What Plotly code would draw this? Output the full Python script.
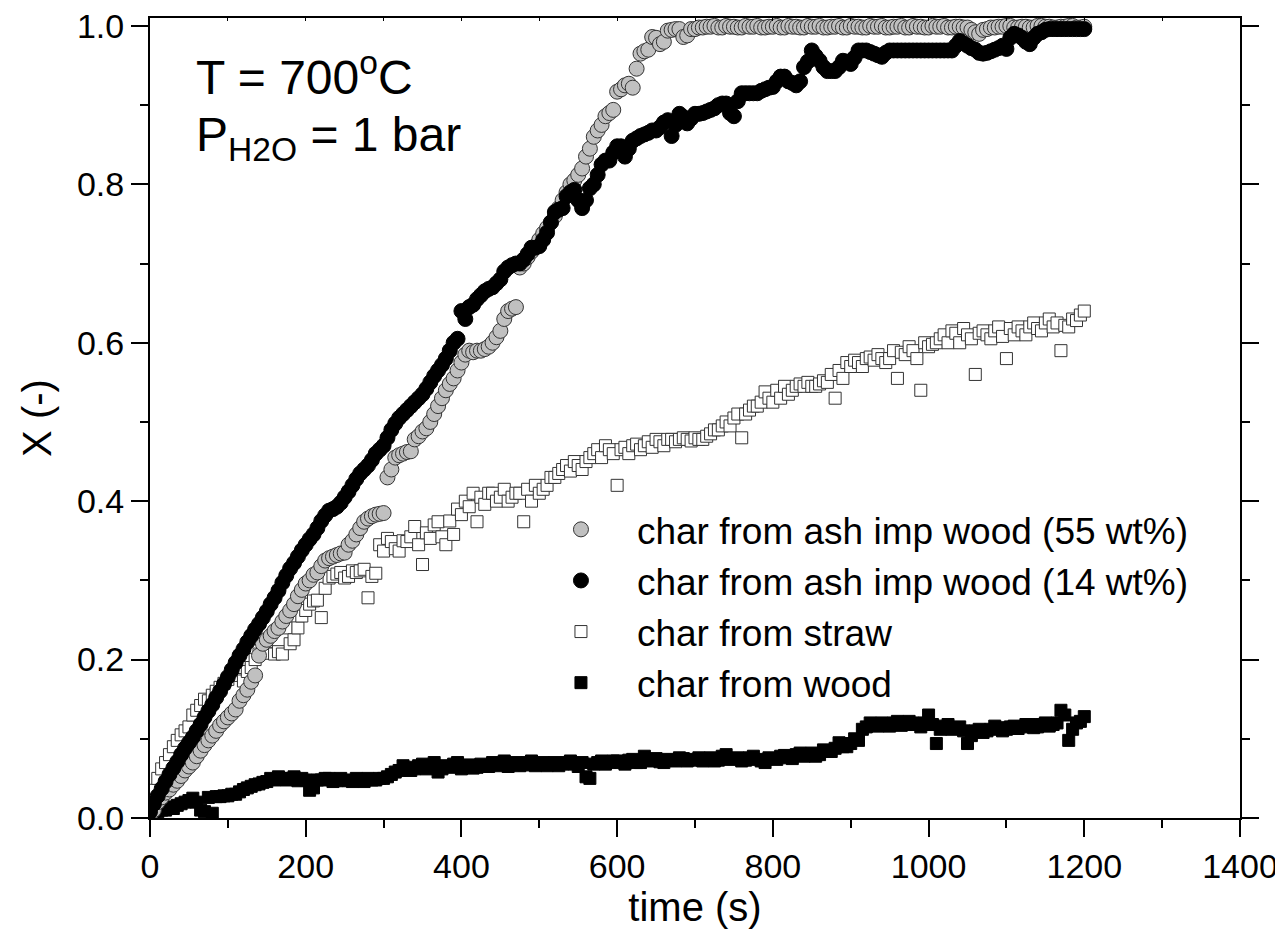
import plotly.graph_objects as go

# sampling times (s): main samples and the in-between samples
time_s = list(range(0, 1201, 10))
time_s_mid = list(range(5, 1200, 10))

# char from ash imp wood (55 wt%)
x_ash55 = [
    0.0, 0.02, 0.032, 0.042, 0.053, 0.065, 0.078, 0.092, 0.104, 0.117,      # 0-90
    0.127, 0.137, 0.155, 0.172, 0.205, 0.225, 0.236, 0.248, 0.262, 0.28,    # 100-190
    0.296, 0.307, 0.318, 0.328, 0.332, 0.335, 0.35, 0.366, 0.378, 0.383,    # 200-290
    0.385, 0.44, 0.458, 0.462, 0.478, 0.488, 0.50, 0.52, 0.54, 0.555,       # 300-390
    0.575, 0.59, 0.59, 0.592, 0.60, 0.615, 0.64, 0.645, 0.70, 0.715,        # 400-490
    0.73, 0.745, 0.76, 0.78, 0.80, 0.812, 0.835, 0.86, 0.875, 0.89,         # 500-590
    0.917, 0.925, 0.922, 0.965, 0.97, 0.985, 0.98, 0.995, 0.996, 0.988,     # 600-690
    0.996, 0.998, 0.999, 0.998, 1.0, 0.999, 0.998, 0.999, 1.0, 0.998,       # 700-790
    0.999, 0.998, 1.0, 0.999, 0.998, 0.999, 1.0, 0.998, 0.999, 0.998,       # 800-890
    1.0, 0.999, 0.998, 0.999, 1.0, 0.998, 0.999, 0.998, 1.0, 0.999,         # 900-990
    0.998, 0.999, 1.0, 0.998, 0.999, 0.998, 0.992, 0.995, 0.998, 0.999,     # 1000-1090
    1.0, 0.998, 0.999, 0.998, 1.0, 0.999, 0.998, 0.999, 1.0, 0.998,         # 1100-1190
    0.999,                                                                  # 1200
]
x_ash55_mid = [
    0.01, 0.026, 0.036, 0.047, 0.06, 0.07, 0.085, 0.098, 0.11, 0.122,       # 5-95
    0.132, 0.148, 0.162, 0.18, 0.22, 0.23, 0.24, 0.255, 0.27, 0.288,        # 105-195
    0.30, 0.31, 0.325, 0.33, 0.334, 0.345, 0.358, 0.374, 0.381, 0.384,      # 205-295
    0.43, 0.455, 0.46, 0.463, 0.482, 0.492, 0.51, 0.53, 0.548, 0.565,       # 305-395
    0.585, 0.588, 0.59, 0.595, 0.607, 0.63, 0.643, 0.695, 0.708, 0.722,     # 405-495
    0.738, 0.752, 0.77, 0.79, 0.805, 0.82, 0.845, 0.868, 0.886, 0.894,      # 505-595
    0.92, 0.927, 0.946, 0.968, 0.986, 0.977, 0.994, 0.996, 0.986, 0.996,    # 605-695
    0.998, 0.999, 1.0, 0.998, 0.999, 0.998, 1.0, 0.999, 0.998, 0.999,       # 705-795
    1.0, 0.998, 0.999, 0.998, 1.0, 0.999, 0.998, 0.999, 1.0, 0.998,         # 805-895
    0.999, 0.998, 1.0, 0.999, 0.998, 0.999, 1.0, 0.998, 0.999, 0.998,       # 905-995
    1.0, 0.999, 0.998, 0.999, 0.998, 0.995, 0.99, 0.996, 0.998, 0.999,      # 1005-1095
    1.0, 0.998, 0.999, 0.998, 1.0, 0.999, 0.998, 0.999, 1.0, 0.998,         # 1105-1195
]

# char from ash imp wood (14 wt%)
x_ash14 = [
    0.008, 0.028, 0.046, 0.063, 0.08, 0.095, 0.11, 0.127, 0.143, 0.16,      # 0-90
    0.178, 0.196, 0.213, 0.23, 0.245, 0.261, 0.278, 0.297, 0.315, 0.33,     # 100-190
    0.345, 0.358, 0.375, 0.388, 0.393, 0.405, 0.42, 0.435, 0.445, 0.46,     # 200-290
    0.47, 0.49, 0.505, 0.515, 0.525, 0.535, 0.55, 0.565, 0.58, 0.60,        # 300-390
    0.64, 0.645, 0.655, 0.665, 0.67, 0.68, 0.695, 0.70, 0.705, 0.72,        # 400-490
    0.722, 0.739, 0.765, 0.77, 0.79, 0.78, 0.78, 0.80, 0.825, 0.83,         # 500-590
    0.848, 0.835, 0.855, 0.861, 0.865, 0.868, 0.878, 0.861, 0.889, 0.877,   # 600-690
    0.889, 0.89, 0.894, 0.90, 0.902, 0.886, 0.915, 0.915, 0.915, 0.92,      # 700-790
    0.923, 0.936, 0.93, 0.925, 0.948, 0.969, 0.956, 0.943, 0.943, 0.956,    # 800-890
    0.952, 0.969, 0.969, 0.965, 0.961, 0.969, 0.969, 0.969, 0.969, 0.969,   # 900-990
    0.969, 0.969, 0.969, 0.969, 0.981, 0.975, 0.97, 0.965, 0.968, 0.972,    # 1000-1090
    0.971, 0.99, 0.985, 0.977, 0.99, 0.995, 0.996, 0.996, 0.996, 0.996,     # 1100-1190
    0.996,                                                                  # 1200
]
x_ash14_mid = [
    0.018, 0.037, 0.055, 0.071, 0.088, 0.102, 0.118, 0.135, 0.152, 0.169,   # 5-95
    0.187, 0.205, 0.222, 0.238, 0.253, 0.27, 0.287, 0.306, 0.322, 0.338,    # 105-195
    0.352, 0.366, 0.382, 0.39, 0.398, 0.412, 0.428, 0.44, 0.452, 0.465,     # 205-295
    0.48, 0.498, 0.51, 0.52, 0.53, 0.542, 0.558, 0.572, 0.59, 0.605,        # 305-395
    0.63, 0.648, 0.66, 0.668, 0.675, 0.69, 0.698, 0.70, 0.712, 0.72,        # 405-495
    0.73, 0.752, 0.768, 0.785, 0.793, 0.77, 0.795, 0.812, 0.83, 0.84,       # 505-595
    0.848, 0.845, 0.858, 0.863, 0.868, 0.872, 0.881, 0.875, 0.885, 0.883,   # 605-695
    0.889, 0.892, 0.896, 0.902, 0.89, 0.905, 0.915, 0.915, 0.918, 0.922,    # 705-795
    0.93, 0.936, 0.928, 0.93, 0.955, 0.962, 0.948, 0.943, 0.948, 0.955,     # 805-895
    0.96, 0.969, 0.967, 0.963, 0.966, 0.969, 0.969, 0.969, 0.969, 0.969,    # 905-995
    0.969, 0.969, 0.969, 0.975, 0.978, 0.972, 0.966, 0.966, 0.97, 0.975,    # 1005-1095
    0.985, 0.988, 0.98, 0.985, 0.992, 0.996, 0.996, 0.996, 0.996, 0.996,    # 1105-1195
]

# char from straw
x_straw = [
    0.02, 0.05, 0.07, 0.09, 0.105, 0.115, 0.136, 0.15, 0.155, 0.165,        # 0-90
    0.175, 0.186, 0.173, 0.19, 0.207, 0.211, 0.207, 0.207, 0.22, 0.24,      # 100-190
    0.262, 0.274, 0.253, 0.303, 0.308, 0.303, 0.312, 0.312, 0.278, 0.309,   # 200-290
    0.337, 0.349, 0.337, 0.349, 0.368, 0.32, 0.353, 0.374, 0.345, 0.358,    # 300-390
    0.383, 0.393, 0.374, 0.396, 0.41, 0.405, 0.40, 0.41, 0.374, 0.40,       # 400-490
    0.41, 0.42, 0.43, 0.44, 0.438, 0.445, 0.45, 0.46, 0.455, 0.465,         # 500-590
    0.42, 0.468, 0.47, 0.465, 0.475, 0.478, 0.47, 0.478, 0.478, 0.478,      # 600-690
    0.48, 0.478, 0.485, 0.49, 0.50, 0.505, 0.48, 0.515, 0.52, 0.538,        # 700-790
    0.525, 0.53, 0.535, 0.545, 0.545, 0.545, 0.548, 0.55, 0.53, 0.555,      # 800-890
    0.57, 0.575, 0.58, 0.578, 0.58, 0.58, 0.555, 0.585, 0.59, 0.54,         # 900-990
    0.595, 0.60, 0.61, 0.615, 0.60, 0.61, 0.56, 0.615, 0.605, 0.62,         # 1000-1090
    0.58, 0.61, 0.615, 0.62, 0.618, 0.625, 0.62, 0.59, 0.62, 0.628,         # 1100-1190
    0.64,                                                                   # 1200
]
x_straw_mid = [
    0.035, 0.062, 0.08, 0.098, 0.11, 0.13, 0.142, 0.148, 0.16, 0.17,        # 5-95
    0.18, 0.19, 0.185, 0.20, 0.21, 0.208, 0.21, 0.24, 0.225, 0.255,         # 105-195
    0.27, 0.275, 0.29, 0.305, 0.31, 0.305, 0.31, 0.314, 0.305, 0.345,       # 205-295
    0.353, 0.34, 0.35, 0.355, 0.345, 0.36, 0.37, 0.355, 0.375, 0.39,        # 305-395
    0.40, 0.41, 0.405, 0.41, 0.40, 0.415, 0.405, 0.41, 0.415, 0.42,         # 405-495
    0.415, 0.43, 0.435, 0.445, 0.45, 0.44, 0.455, 0.465, 0.47, 0.46,        # 505-595
    0.465, 0.46, 0.472, 0.47, 0.468, 0.475, 0.478, 0.475, 0.48, 0.476,      # 605-695
    0.478, 0.482, 0.49, 0.495, 0.495, 0.51, 0.51, 0.52, 0.525, 0.53,        # 705-795
    0.54, 0.545, 0.54, 0.548, 0.55, 0.545, 0.552, 0.56, 0.565, 0.575,       # 805-895
    0.578, 0.57, 0.582, 0.585, 0.575, 0.59, 0.588, 0.595, 0.58, 0.60,       # 905-995
    0.598, 0.605, 0.60, 0.612, 0.618, 0.605, 0.612, 0.61, 0.615, 0.608,     # 1005-1095
    0.618, 0.62, 0.61, 0.625, 0.615, 0.63, 0.625, 0.622, 0.63, 0.635,       # 1105-1195
]

# char from wood
x_wood = [
    0.005, 0.008, 0.01, 0.012, 0.018, 0.022, 0.02, 0.008, 0.006, 0.027,     # 0-90
    0.028, 0.03, 0.036, 0.04, 0.043, 0.046, 0.048, 0.05, 0.05, 0.047,       # 100-190
    0.048, 0.038, 0.048, 0.05, 0.047, 0.048, 0.046, 0.048, 0.05, 0.048,     # 200-290
    0.05, 0.055, 0.06, 0.064, 0.062, 0.068, 0.065, 0.058, 0.066, 0.068,     # 300-390
    0.062, 0.067, 0.064, 0.066, 0.07, 0.068, 0.065, 0.07, 0.067, 0.072,     # 400-490
    0.068, 0.066, 0.07, 0.068, 0.072, 0.065, 0.052, 0.068, 0.072, 0.07,     # 500-590
    0.072, 0.068, 0.074, 0.07, 0.072, 0.075, 0.07, 0.073, 0.076, 0.072,     # 600-690
    0.074, 0.072, 0.076, 0.073, 0.08, 0.075, 0.072, 0.076, 0.074, 0.07,     # 700-790
    0.075, 0.078, 0.076, 0.08, 0.078, 0.082, 0.08, 0.084, 0.088, 0.09,      # 800-890
    0.094, 0.098, 0.115, 0.118, 0.12, 0.116, 0.122, 0.118, 0.12, 0.115,     # 900-990
    0.13, 0.094, 0.116, 0.112, 0.115, 0.094, 0.11, 0.108, 0.112, 0.114,     # 1000-1090
    0.112, 0.116, 0.115, 0.118, 0.115, 0.12, 0.118, 0.136, 0.098, 0.12,     # 1100-1190
    0.128,                                                                  # 1200
]
x_wood_mid = [
    0.004, 0.01, 0.014, 0.016, 0.02, 0.025, 0.01, 0.026, 0.027, 0.028,      # 5-95
    0.03, 0.033, 0.038, 0.042, 0.045, 0.05, 0.052, 0.048, 0.052, 0.05,      # 105-195
    0.035, 0.048, 0.05, 0.046, 0.05, 0.047, 0.05, 0.046, 0.048, 0.05,       # 205-295
    0.052, 0.058, 0.066, 0.06, 0.066, 0.062, 0.07, 0.062, 0.064, 0.07,      # 305-395
    0.066, 0.063, 0.068, 0.065, 0.066, 0.072, 0.068, 0.066, 0.07, 0.066,    # 405-495
    0.07, 0.068, 0.066, 0.07, 0.068, 0.07, 0.05, 0.07, 0.068, 0.072,        # 505-595
    0.07, 0.073, 0.07, 0.078, 0.073, 0.071, 0.074, 0.072, 0.075, 0.073,     # 605-695
    0.076, 0.074, 0.072, 0.078, 0.074, 0.076, 0.073, 0.078, 0.072, 0.076,   # 705-795
    0.074, 0.079, 0.075, 0.082, 0.08, 0.078, 0.086, 0.084, 0.095, 0.09,     # 805-895
    0.10, 0.112, 0.12, 0.116, 0.118, 0.12, 0.117, 0.122, 0.118, 0.12,       # 905-995
    0.118, 0.112, 0.118, 0.113, 0.11, 0.104, 0.112, 0.11, 0.116, 0.11,      # 1005-1095
    0.115, 0.113, 0.118, 0.114, 0.118, 0.116, 0.12, 0.13, 0.112, 0.122,     # 1105-1195
]

x_ticks = [0, 200, 400, 600, 800, 1000, 1200, 1400]
y_ticks = [0.0, 0.2, 0.4, 0.6, 0.8, 1.0]

FONT = "Liberation Sans, Arial, sans-serif"


def merged(t_a, v_a, t_b, v_b):
    pairs = sorted(zip(t_a + t_b, v_a + v_b))
    return [p[0] for p in pairs], [p[1] for p in pairs]


fig = go.Figure()

t, v = merged(time_s, x_straw, time_s_mid, x_straw_mid)
fig.add_trace(go.Scatter(
    x=t, y=v, mode="markers", name="char from straw", legendrank=3,
    marker=dict(symbol="square", size=12, color="white",
                line=dict(color="#333333", width=1)),
))
t, v = merged(time_s, x_wood, time_s_mid, x_wood_mid)
fig.add_trace(go.Scatter(
    x=t, y=v, mode="markers", name="char from wood", legendrank=4,
    marker=dict(symbol="square", size=12, color="black",
                line=dict(color="black", width=1)),
))
t, v = merged(time_s, x_ash55, time_s_mid, x_ash55_mid)
fig.add_trace(go.Scatter(
    x=t, y=v, mode="markers", name="char from ash imp wood (55 wt%)",
    legendrank=1,
    marker=dict(symbol="circle", size=15, color="#c0c0c0",
                line=dict(color="#333333", width=1)),
))
t, v = merged(time_s, x_ash14, time_s_mid, x_ash14_mid)
fig.add_trace(go.Scatter(
    x=t, y=v, mode="markers", name="char from ash imp wood (14 wt%)",
    legendrank=2,
    marker=dict(symbol="circle", size=15, color="black",
                line=dict(color="black", width=1)),
))

# invisible trace to anchor the top axis
fig.add_trace(go.Scatter(x=[0, 1400], y=[None, None], xaxis="x2", yaxis="y",
                         mode="markers", showlegend=False, hoverinfo="skip"))

# the page body has an 8 px margin, so the figure is 8 px smaller each way
fig.update_layout(
    width=1275, height=938,
    margin=dict(l=142, r=43, t=10, b=128, autoexpand=False),
    paper_bgcolor="white", plot_bgcolor="white",
    font=dict(family=FONT, size=34, color="black"),
    showlegend=True,
    legend=dict(
        x=0.344, y=0.399, xanchor="left", yanchor="top",
        font=dict(family=FONT, size=37, color="black"),
        bgcolor="rgba(0,0,0,0)", borderwidth=0,
        itemwidth=102, tracegroupgap=0,
    ),
    xaxis=dict(
        range=[0, 1400], tickvals=x_ticks, ticktext=[str(v) for v in x_ticks],
        ticks="outside", ticklen=17, tickwidth=2, tickcolor="black",
        minor=dict(dtick=100, ticks="outside", ticklen=8, tickwidth=2,
                   tickcolor="black"),
        showline=True, linewidth=2, linecolor="black", mirror=True,
        showgrid=False, zeroline=False, automargin=False,
        ticklabeloverflow="allow",
        tickfont=dict(family=FONT, size=34),
        title=dict(text="time (s)", font=dict(family=FONT, size=40), standoff=0),
    ),
    xaxis2=dict(
        range=[0, 1400], overlaying="x", side="top",
        tickvals=list(range(0, 1401, 100)), ticks="inside", ticklen=3,
        tickwidth=1, tickcolor="black", showticklabels=False,
        showline=False, showgrid=False, zeroline=False, automargin=False,
    ),
    yaxis=dict(
        range=[0, 1.01], tickvals=y_ticks, ticktext=[f"{v:.1f}" for v in y_ticks],
        ticks="outside", ticklen=17, tickwidth=2, tickcolor="black",
        minor=dict(dtick=0.1, ticks="outside", ticklen=8, tickwidth=2,
                   tickcolor="black"),
        showline=True, linewidth=2, linecolor="black", mirror="ticks",
        showgrid=False, zeroline=False, automargin=False,
        ticklabeloverflow="allow",
        tickfont=dict(family=FONT, size=34),
        title=dict(text="X (-)", font=dict(family=FONT, size=40), standoff=13),
    ),
    annotations=[
        dict(text="T = 700<sup>o</sup>C", xref="paper", yref="paper",
             x=0.04, y=0.93, xanchor="left", yanchor="middle", showarrow=False,
             font=dict(family=FONT, size=48)),
        dict(text="P<sub>H2O</sub> = 1 bar", xref="paper", yref="paper",
             x=0.04, y=0.85, xanchor="left", yanchor="middle", showarrow=False,
             font=dict(family=FONT, size=48)),
    ],
)

fig.write_html("out.html")
